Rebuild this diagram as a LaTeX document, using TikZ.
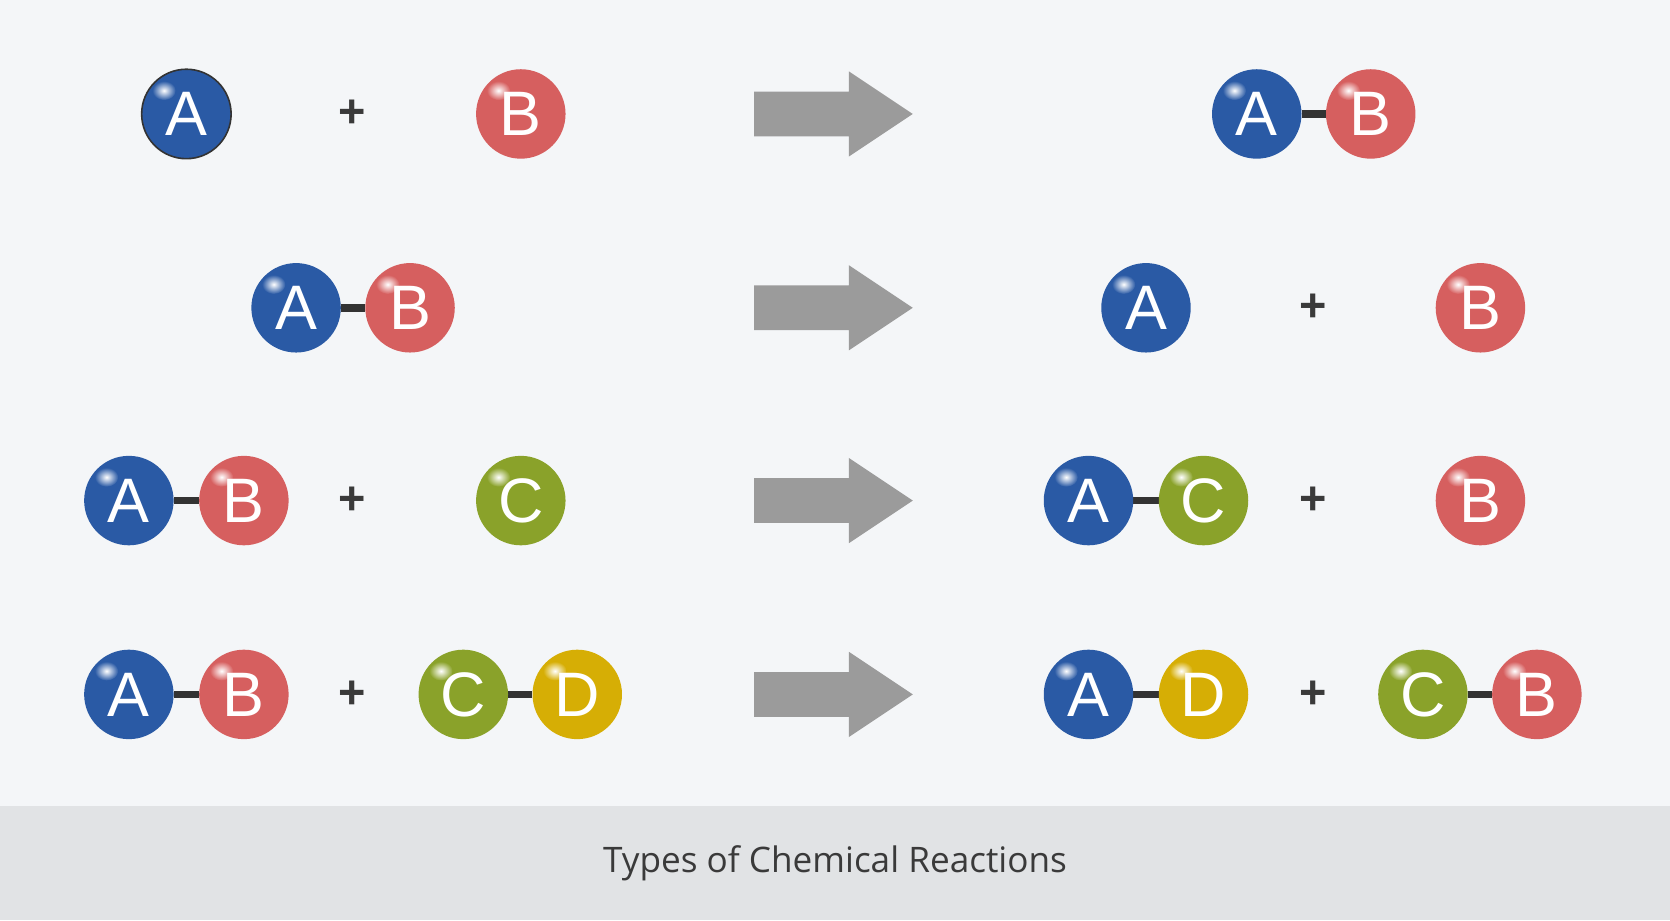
\documentclass[tikz,border=0pt]{standalone}
\usepackage{fontspec}
\setmainfont{Open Sans}
\newfontfamily\letterfont{Liberation Sans}
\usetikzlibrary{positioning,calc,backgrounds}
\definecolor{bgpanel}{HTML}{F4F6F8}
\definecolor{bgband}{HTML}{E1E3E5}
\definecolor{atomA}{HTML}{2A5AA5}
\definecolor{atomB}{HTML}{D65F5F}
\definecolor{atomC}{HTML}{8AA22A}
\definecolor{atomD}{HTML}{D6AE05}
\definecolor{bondgray}{HTML}{333333}
\definecolor{arrowgray}{HTML}{9B9B9B}
\definecolor{plusgray}{HTML}{3A3A3A}

% an atom: name, position, colour, letter
\newcommand{\atom}[4]{%
	\node[atom,fill=#3] (#1) at (#2) {};
	\shade[inner color=white,outer color=#3] ($(#1)+(-21,-22)$) ellipse (11 and 9);
	\node[atomlabel] at (#1) {#4};
}
% a bond between two atoms, behind them
\newcommand{\bond}[2]{%
	\begin{pgfonlayer}{background}
		\draw[bondline] (#1) -- (#2);
	\end{pgfonlayer}
}
\newcommand{\reacarrow}[1]{%
	\fill[arrowgray] (708,#1-21) -- (797,#1-21) -- (797,#1-40) -- (857,#1)
		-- (797,#1+40) -- (797,#1+21) -- (708,#1+21) -- cycle;
}

\begin{document}
\begin{tikzpicture}[x=1pt,y=-1pt,
	atom/.style={circle,minimum size=84pt,inner sep=0pt},
	atomlabel/.style={text=white,font=\letterfont\fontsize{59}{59}\selectfont},
	bondline/.style={draw=bondgray,line width=7pt},
	plus/.style={text=plusgray,font=\letterfont\bfseries\fontsize{44}{44}\selectfont}]
	\useasboundingbox (0,0) rectangle (1568,864);
	\begin{pgfonlayer}{background}
		\fill[bgpanel] (0,0) rectangle (1568,757);
		\fill[bgband] (0,757) rectangle (1568,864);
	\end{pgfonlayer}
	\node[text=plusgray,font=\fontsize{33}{33}\selectfont] (title) at (784,811) {Types of Chemical Reactions};
	
	% row 1
	\atom{aa}{175,107}{atomA}{A}
	\draw[bondgray,line width=1.5pt] (aa) circle (42);
	\node[plus] (p1) at (331,107) {+};
	\atom{ab}{489,107}{atomB}{B}
	\reacarrow{107}
	\atom{ra}{1180,107}{atomA}{A}
	\atom{rb}{1287,107}{atomB}{B}
	\bond{ra}{rb}
	
	% row 2
	\atom{ba}{278,289}{atomA}{A}
	\atom{bb}{385,289}{atomB}{B}
	\bond{ba}{bb}
	\reacarrow{289}
	\atom{sa}{1076,289}{atomA}{A}
	\node[plus] (p2) at (1233,289) {+};
	\atom{sb}{1390,289}{atomB}{B}
	
	% row 3
	\atom{ca}{121,470}{atomA}{A}
	\atom{cb}{229,470}{atomB}{B}
	\bond{ca}{cb}
	\node[plus] (p3) at (331,470) {+};
	\atom{cc}{489,470}{atomC}{C}
	\reacarrow{470}
	\atom{ta}{1022,470}{atomA}{A}
	\atom{tc}{1130,470}{atomC}{C}
	\bond{ta}{tc}
	\node[plus] (p4) at (1233,470) {+};
	\atom{tb}{1390,470}{atomB}{B}
	
	% row 4
	\atom{da}{121,652}{atomA}{A}
	\atom{db}{229,652}{atomB}{B}
	\bond{da}{db}
	\node[plus] (p5) at (331,652) {+};
	\atom{dc}{435,652}{atomC}{C}
	\atom{dd}{542,652}{atomD}{D}
	\bond{dc}{dd}
	\reacarrow{652}
	\atom{ua}{1022,652}{atomA}{A}
	\atom{ud}{1130,652}{atomD}{D}
	\bond{ua}{ud}
	\node[plus] (p6) at (1233,652) {+};
	\atom{uc}{1336,652}{atomC}{C}
	\atom{ub}{1443,652}{atomB}{B}
	\bond{uc}{ub}
\end{tikzpicture}
\end{document}
